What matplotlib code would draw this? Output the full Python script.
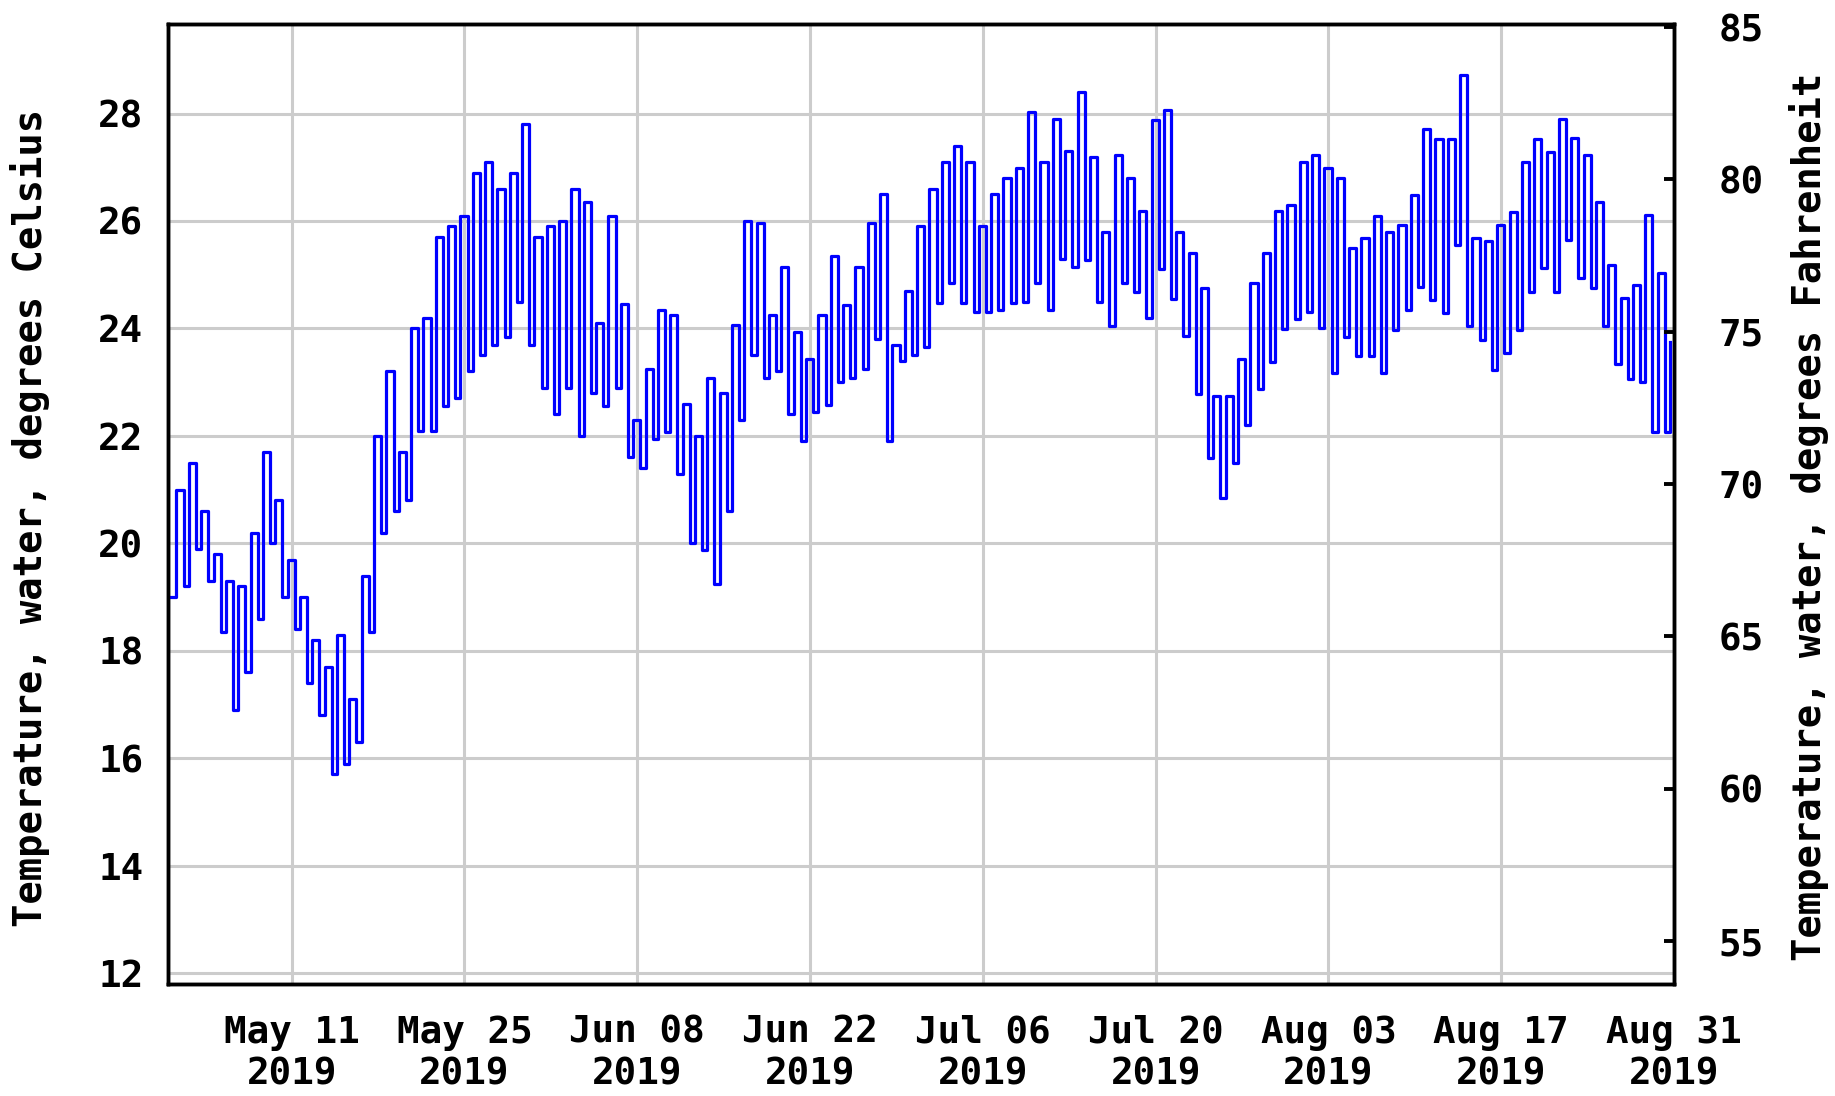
import numpy as np
import pandas as pd
import matplotlib
matplotlib.use('Agg')
import matplotlib.pyplot as plt

plt.rcParams['font.family'] = 'DejaVu Sans Mono'
plt.rcParams['font.weight'] = 'bold'

# daily water temperature, May 1 - Aug 30 2019 (deg C)
days = pd.date_range('2019-05-01', '2019-08-30', freq='D')
daily_min = [19.0, 19.2, 19.9, 19.3, 18.35, 16.9, 17.6, 18.6, 20.0, 19.0,
             18.4, 17.4, 16.8, 15.7, 15.9, 16.3, 18.35, 20.2, 20.6, 20.8,
             22.1, 22.1, 22.55, 22.7, 23.2, 23.5, 23.7, 23.85, 24.5, 23.7,
             22.9, 22.4, 22.9, 22.0, 22.8, 22.55, 22.9, 21.6, 21.4, 21.95,
             22.07, 21.3, 20.0, 19.87, 19.25, 20.6, 22.3, 23.5, 23.07, 23.2,
             22.4, 21.9, 22.45, 22.57, 23.0, 23.07, 23.25, 23.8, 21.9, 23.4,
             23.5, 23.65, 24.47, 24.84, 24.47, 24.3, 24.3, 24.35, 24.47, 24.5,
             24.85, 24.35, 25.3, 25.15, 25.28, 24.5, 24.05, 24.85, 24.67, 24.2,
             25.1, 24.54, 23.86, 22.78, 21.58, 20.84, 21.5, 22.2, 22.88, 23.37,
             23.99, 24.17, 24.3, 24.0, 23.17, 23.85, 23.48, 23.48, 23.17, 23.97,
             24.35, 24.78, 24.53, 24.28, 25.55, 24.04, 23.79, 23.23, 23.54, 23.97,
             24.67, 25.13, 24.67, 25.65, 24.94, 24.76, 24.05, 23.34, 23.06, 23.0,
             22.07, 22.07]
daily_max = [21.0, 21.5, 20.6, 19.8, 19.3, 19.2, 20.2, 21.7, 20.8, 19.7,
             19.0, 18.2, 17.7, 18.3, 17.1, 19.4, 22.0, 23.2, 21.7, 24.0,
             24.2, 25.7, 25.9, 26.1, 26.9, 27.1, 26.6, 26.9, 27.8, 25.7,
             25.9, 26.0, 26.6, 26.35, 24.1, 26.1, 24.45, 22.3, 23.25, 24.35,
             24.25, 22.6, 22.0, 23.07, 22.8, 24.06, 26.0, 25.96, 24.25, 25.15,
             23.94, 23.44, 24.25, 25.34, 24.43, 25.15, 25.96, 26.5, 23.7, 24.7,
             25.9, 26.6, 27.1, 27.4, 27.1, 25.9, 26.5, 26.8, 26.98, 28.03,
             27.1, 27.9, 27.3, 28.4, 27.2, 25.8, 27.23, 26.8, 26.18, 27.88,
             28.06, 25.8, 25.4, 24.76, 22.75, 22.75, 23.43, 24.85, 25.4, 26.18,
             26.3, 27.1, 27.23, 26.98, 26.8, 25.5, 25.68, 26.1, 25.8, 25.93,
             26.48, 27.72, 27.53, 27.53, 28.71, 25.68, 25.62, 25.93, 26.17, 27.1,
             27.53, 27.29, 27.9, 27.54, 27.23, 26.36, 25.19, 24.57, 24.8, 26.12,
             25.04, 23.74]

tick_dates = pd.to_datetime(['2019-05-11', '2019-05-25', '2019-06-08', '2019-06-22',
                             '2019-07-06', '2019-07-20', '2019-08-03', '2019-08-17',
                             '2019-08-31'])
tick_labels = ['May 11\n2019', 'May 25\n2019', 'Jun 08\n2019', 'Jun 22\n2019',
               'Jul 06\n2019', 'Jul 20\n2019', 'Aug 03\n2019', 'Aug 17\n2019',
               'Aug 31\n2019']
celsius_ticks = [12, 14, 16, 18, 20, 22, 24, 26, 28]
fahrenheit_ticks = [55, 60, 65, 70, 75, 80, 85]

# morning low, afternoon high for each day
t_low = (days + pd.Timedelta(hours=6)).values
t_high = (days + pd.Timedelta(hours=16)).values
times = np.column_stack([t_low, t_high]).ravel()
temps = np.column_stack([daily_min, daily_max]).ravel()

fig = plt.figure(figsize=(18.35, 10.96), dpi=100)
ax = fig.add_axes([0.0917, 0.1022, 0.8206, 0.8756])

ax.plot(times, temps, color='#0000ff', linewidth=2.3, drawstyle='steps-post', zorder=3)

ax.set_xlim(pd.Timestamp('2019-05-01'), pd.Timestamp('2019-08-31'))
ax.set_ylim(11.8, 29.66)
ax.set_xticks(tick_dates)
ax.set_xticklabels(tick_labels, linespacing=1.2)
ax.set_yticks(celsius_ticks)
ax.grid(True, color='#cccccc', linewidth=2.2)
ax.set_axisbelow(True)
ax.tick_params(axis='y', length=0, pad=18, labelsize=27)
ax.tick_params(axis='x', length=0, pad=22, labelsize=27)

ax2 = ax.twinx()
ax2.set_ylim(53.59, 85.09)
ax2.set_yticks(fahrenheit_ticks)
ax2.tick_params(axis='y', direction='in', length=7, width=2.8, pad=32, labelsize=27)

for a in (ax, ax2):
    for s in a.spines.values():
        s.set_linewidth(2.5)

fig.text(30 / 1835, 0.527, 'Temperature, water, degrees Celsius',
         rotation=90, ha='center', va='center', fontsize=28, fontweight='bold')
fig.text(1809 / 1835, 0.528, 'Temperature, water, degrees Fahrenheit',
         rotation=90, ha='center', va='center', fontsize=28, fontweight='bold')

fig.savefig('out.png', dpi=100)
